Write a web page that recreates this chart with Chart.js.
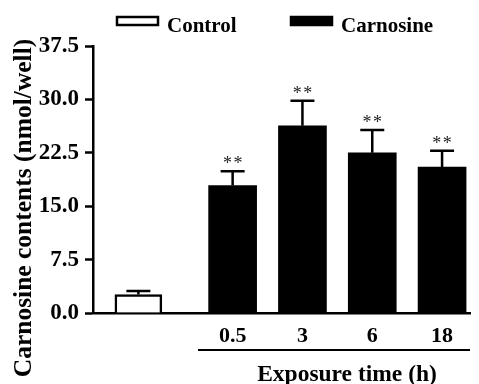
<!DOCTYPE html>
<html>
<head>
<meta charset="utf-8">
<script src="https://cdn.jsdelivr.net/npm/chart.js@4/dist/chart.umd.min.js"></script>
<style>
  html, body { margin: 0; padding: 0; background: #fff; }
  #wrap { width: 479px; height: 384px; }
</style>
</head>
<body>
<div id="wrap"><canvas id="c" width="479" height="384"></canvas></div>
<script>
// ---- data ----
const seriesNames = ['Control', 'Carnosine'];
const timeLabels = ['0.5', '3', '6', '18'];
const controlValue = [2.6];
const controlError = [0.5];
const carnosineValues = [17.9, 26.3, 22.5, 20.5];
const carnosineErrors = [2.0, 3.5, 3.2, 2.3];
const significance = ['**', '**', '**', '**'];
const yTicks = [0, 7.5, 15, 22.5, 30, 37.5];
const xTitle = 'Exposure time (h)';
const yTitle = 'Carnosine contents (nmol/well)';

// category positions on the linear x scale
const controlPos = [0.65];
const timePos = [2, 3, 4, 5];

const FONT = "'Liberation Serif', 'Times New Roman', serif";

const annot = {
  id: 'annot',
  afterDatasetsDraw(chart) {
    const ctx = chart.ctx;
    const ys = chart.scales.y;
    const area = chart.chartArea;
    const errs = [controlError, carnosineErrors];
    ctx.save();
    chart.data.datasets.forEach((ds, di) => {
      const meta = chart.getDatasetMeta(di);
      meta.data.forEach((el, i) => {
        const v = ds.data[i].y;
        const top = ys.getPixelForValue(v + errs[di][i]);
        ctx.strokeStyle = '#000';
        ctx.lineWidth = 2.5;
        ctx.beginPath();
        ctx.moveTo(el.x, el.y);
        ctx.lineTo(el.x, top);
        ctx.moveTo(el.x - 12, top);
        ctx.lineTo(el.x + 12, top);
        ctx.stroke();
        if (di === 1) {
          ctx.fillStyle = '#222';
          ctx.font = "18px " + FONT;
          ctx.textAlign = 'center';
          ctx.textBaseline = 'alphabetic';
          ctx.fillText(significance[i].split('').join('\u200A'), el.x, top - 2);
        }
      });
    });
    // underline for exposure group
    ctx.lineWidth = 2;
    ctx.beginPath();
    ctx.moveTo(198, 350);
    ctx.lineTo(area.right, 350);
    ctx.stroke();
    // x title
    ctx.fillStyle = '#000';
    ctx.font = "bold 23.5px " + FONT;
    ctx.textAlign = 'center';
    ctx.textBaseline = 'alphabetic';
    ctx.fillText(xTitle, 347, 381);
    // y title
    ctx.save();
    ctx.translate(31, 208);
    ctx.rotate(-Math.PI / 2);
    ctx.font = "bold 25.5px " + FONT;
    ctx.fillText(yTitle, 0, 0);
    ctx.restore();
    // legend
    ctx.font = "bold 21px " + FONT;
    ctx.textAlign = 'left';
    const legendX = [117, 291];
    chart.data.datasets.forEach((ds, di) => {
      const x = legendX[di];
      ctx.fillStyle = ds.backgroundColor;
      ctx.fillRect(x, 17, 41, 8);
      ctx.lineWidth = 2.5;
      ctx.strokeStyle = '#000';
      ctx.strokeRect(x, 17, 41, 8);
      ctx.fillStyle = '#000';
      ctx.fillText(ds.label, x + 50, 32);
    });
    ctx.restore();
  }
};

new Chart(document.getElementById('c'), {
  type: 'bar',
  data: {
    datasets: [
      {
        label: seriesNames[0],
        data: controlPos.map((x, i) => ({ x: x, y: controlValue[i] })),
        backgroundColor: '#ffffff',
        borderColor: '#000000',
        borderWidth: 2.5,
        borderSkipped: 'bottom',
        barThickness: 47
      },
      {
        label: seriesNames[1],
        data: timePos.map((x, i) => ({ x: x, y: carnosineValues[i] })),
        backgroundColor: '#000000',
        borderColor: '#000000',
        borderWidth: 0,
        barThickness: 48
      }
    ]
  },
  plugins: [annot],
  options: {
    responsive: false,
    animation: false,
    layout: { padding: { top: 46, right: 9, left: 0, bottom: 0 } },
    plugins: { legend: { display: false }, tooltip: { enabled: false } },
    datasets: { bar: { grouped: false } },
    scales: {
      x: {
        type: 'linear',
        offset: false,
        min: 0,
        max: 5.4,
        afterFit(s) { s.height = 71; },
        afterBuildTicks(s) { s.ticks = timePos.map(v => ({ value: v })); },
        grid: { display: false, drawTicks: false },
        border: { display: true, color: '#000', width: 2.5 },
        ticks: {
          autoSkip: false,
          maxRotation: 0,
          padding: 10,
          color: '#000',
          font: { family: FONT, size: 22, weight: 'bold' },
          callback(v) { const i = timePos.indexOf(v); return i >= 0 ? timeLabels[i] : ''; }
        }
      },
      y: {
        min: 0,
        max: 37.5,
        afterFit(s) { s.width = 93; },
        afterBuildTicks(s) { s.ticks = yTicks.map(v => ({ value: v })); },
        grid: { drawOnChartArea: false, drawTicks: true, tickLength: 8, tickWidth: 2.5, tickColor: '#000' },
        border: { display: true, color: '#000', width: 2.5 },
        ticks: {
          padding: 6,
          color: '#000',
          font: { family: FONT, size: 23, weight: 'bold' },
          callback(v) { return v.toFixed(1); }
        }
      }
    }
  }
});
</script>
</body>
</html>
